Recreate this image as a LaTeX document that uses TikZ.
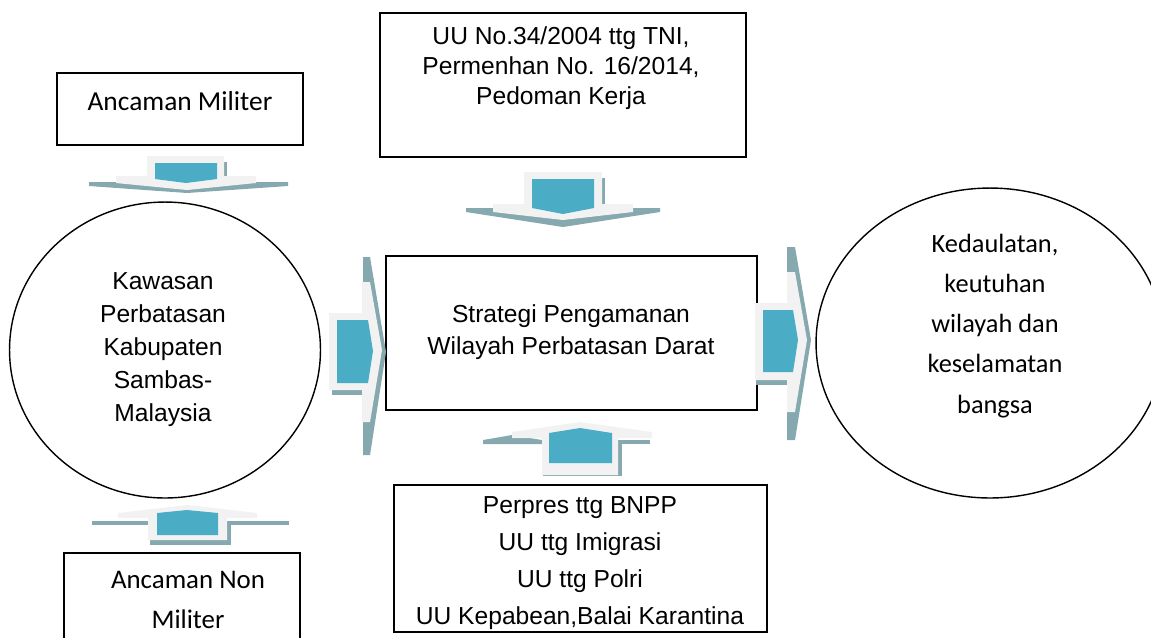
\documentclass[tikz,border=0pt]{standalone}
\usepackage{fontspec}
\setmainfont{Liberation Sans}
\newfontfamily\calibri{Carlito}
\usetikzlibrary{shapes.geometric}
\definecolor{aqua}{HTML}{4BACC6}
\definecolor{bevel}{HTML}{F2F2F2}
\definecolor{hatch}{HTML}{86A9AF}

\begin{document}
\begin{tikzpicture}[x=0.02cm, y=-0.02cm,
    box/.style={draw, line width=0.8pt, inner sep=0pt},
    oval/.style={draw, ellipse, line width=0.8pt, inner sep=0pt},
    arial/.style={align=center, font=\fontsize{14}{#1}\selectfont},
    cal/.style={align=center, font=\calibri\fontsize{15}{#1}\selectfont},
    body/.style={fill=bevel},
    core/.style={fill=aqua},
    shade/.style={fill=hatch}]
    \useasboundingbox (0,0) rectangle (1151,637);
    \clip (0,0) rectangle (1151,637);

    % Boxes
    \node[box, minimum width=4.92cm, minimum height=1.44cm] (militer) at (180,109) {};
    \node[box, minimum width=7.32cm, minimum height=2.88cm] (uu)      at (563,85)  {};
    \node[box, minimum width=7.42cm, minimum height=3.08cm] (strat)   at (571.5,333) {};
    \node[box, minimum width=7.46cm, minimum height=2.94cm] (perpres) at (580.5,558.5) {};
    \node[box, minimum width=4.72cm, minimum height=2.94cm] (nonmil)  at (182,626.5) {};

    % Ellipses
    \node[oval, minimum width=6.22cm, minimum height=5.92cm] (kawasan) at (165,350) {};
    \node[oval, minimum width=6.96cm, minimum height=6.20cm] (daulat)  at (990,343) {};

    % Texts
    \node[cal=18, font=\calibri\fontsize{15.6}{18}\selectfont] (tMil) at (180,101) {Ancaman Militer};
    \node[arial=17.1] (tUU)  at (561,68)  {UU No.34/2004 ttg TNI,\\Permenhan No. 16/2014,\\Pedoman Kerja};
    \node[arial=18.2] (tStr) at (571,332) {Strategi Pengamanan\\Wilayah Perbatasan Darat};
    \node[arial=21.2] (tPer) at (580,563) {Perpres ttg BNPP\\UU ttg Imigrasi\\UU ttg Polri\\UU Kepabean,Balai Karantina};
    \node[arial=18.8] (tKaw) at (163,350) {Kawasan\\Perbatasan\\Kabupaten\\Sambas-\\Malaysia};
    \node[cal=22.8]   (tKed) at (995,326) {Kedaulatan,\\keutuhan\\wilayah dan\\keselamatan\\bangsa};
    \node[cal=22.8, font=\calibri\fontsize{15.3}{22.8}\selectfont] (tNon) at (188,600) {Ancaman Non\\Militer};

    % Arrow: militer -> kawasan
    \fill[shade] (89,182) -- (288,182) -- (288,186) -- (187,193) -- (89,186) -- cycle;
    \fill[shade] (224,162) rectangle (227,176);
    \fill[body] (147,156) -- (224,156) -- (224,176) -- (256,176) -- (256,183) -- (187,190) -- (116,183) -- (116,176) -- (147,176) -- cycle;
    \fill[core] (155,163) -- (217,163) -- (217,179) -- (186,183) -- (155,179) -- cycle;

    % Arrow: uu -> strat
    \fill[shade] (466,208) -- (660,208) -- (660,212) -- (563,227) -- (466,212) -- cycle;
    \fill[shade] (602,178) rectangle (605,204);
    \fill[body] (524,172) -- (602,172) -- (602,204) -- (633,204) -- (633,212) -- (563,220) -- (493,212) -- (493,204) -- (524,204) -- cycle;
    \fill[core] (532,179) -- (594,179) -- (594,208) -- (563,214) -- (532,208) -- cycle;

    % Arrow: kawasan -> strat
    \fill[shade] (363,257) -- (370,257) -- (386,352) -- (370,455) -- (363,455) -- cycle;
    \fill[shade] (332,390) rectangle (362,395);
    \fill[body] (329,313) -- (362,313) -- (362,282) -- (370,282) -- (382,350) -- (370,422) -- (362,422) -- (362,390) -- (329,390) -- cycle;
    \fill[core] (337,320) -- (368,320) -- (373,351) -- (368,383) -- (337,383) -- cycle;

    % Arrow: strat -> daulat
    \fill[shade] (787,247) -- (795,247) -- (811,340) -- (795,440) -- (787,440) -- cycle;
    \fill[shade] (756,380) rectangle (787,385);
    \fill[body] (755,303) -- (787,303) -- (787,272) -- (795,272) -- (807,340) -- (795,412) -- (787,412) -- (787,380) -- (755,380) -- cycle;
    \fill[core] (763,310) -- (793,310) -- (798,340) -- (793,372) -- (763,372) -- cycle;

    % Arrow: perpres -> strat
    \fill[shade] (483,440) -- (512,435) -- (542,440) -- (542,444) -- (483,444) -- cycle;
    \fill[shade] (618,440) rectangle (650,444);
    \fill[shade] (618,440) rectangle (622,476);
    \fill[shade] (543,472) rectangle (622,476);
    \fill[body] (542,475) -- (618,475) -- (618,438) -- (652,438) -- (652,432) -- (580,422) -- (512,432) -- (512,438) -- (542,438) -- cycle;
    \fill[core] (549,433) -- (580,428) -- (612,433) -- (612,463) -- (549,463) -- cycle;

    % Arrow: nonmil -> kawasan
    \fill[shade] (92,521) rectangle (148,525);
    \fill[shade] (227,521) rectangle (289,525);
    \fill[shade] (227,521) rectangle (231,545);
    \fill[shade] (150,540) rectangle (231,545);
    \fill[body] (148,540) -- (227,540) -- (227,518) -- (257,518) -- (257,513) -- (187,505) -- (118,513) -- (118,518) -- (148,518) -- cycle;
    \fill[core] (157,513) -- (187,510) -- (218,513) -- (218,535) -- (157,535) -- cycle;
\end{tikzpicture}
\end{document}
